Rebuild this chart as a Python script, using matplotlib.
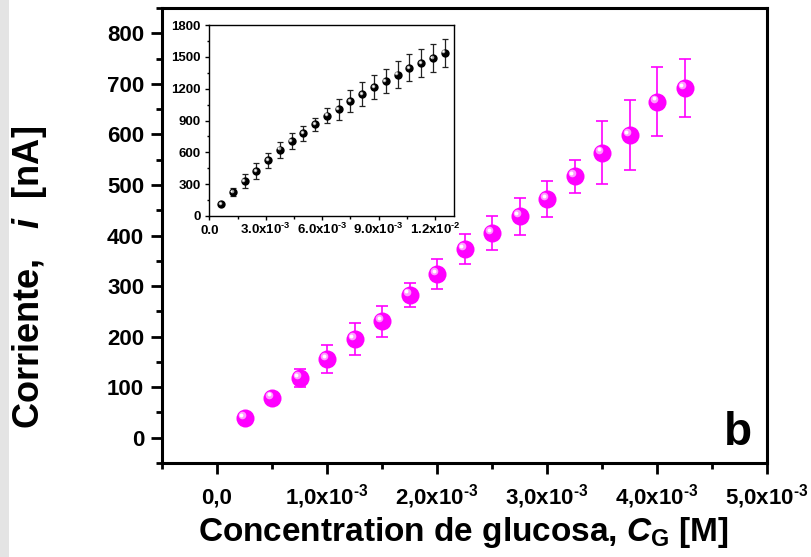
import matplotlib
matplotlib.use("Agg")
import matplotlib.pyplot as plt
from matplotlib.ticker import MultipleLocator
from matplotlib.transforms import offset_copy
from matplotlib.patches import Rectangle

plt.rcParams['font.family'] = ['Liberation Sans', 'DejaVu Sans']
plt.rcParams['font.weight'] = 'bold'
plt.rcParams['mathtext.fontset'] = 'custom'
plt.rcParams['mathtext.rm'] = 'Liberation Sans:bold'
plt.rcParams['mathtext.bf'] = 'Liberation Sans:bold'
plt.rcParams['mathtext.it'] = 'Liberation Sans:bold:italic'
plt.rcParams['mathtext.sf'] = 'Liberation Sans:bold'
plt.rcParams['mathtext.default'] = 'bf'

# ---------------- data ----------------
main_x = [0.25e-3, 0.50e-3, 0.75e-3, 1.00e-3, 1.25e-3, 1.50e-3, 1.75e-3, 2.00e-3,
          2.25e-3, 2.50e-3, 2.75e-3, 3.00e-3, 3.25e-3, 3.50e-3, 3.75e-3, 4.00e-3, 4.25e-3]
main_y = [39, 79, 118, 156, 195, 230, 283, 324, 373, 405, 438, 472, 517, 564, 599, 665, 692]
main_err = [5, 10, 18, 28, 31, 30, 24, 29, 29, 33, 37, 35, 33, 62, 70, 69, 58]

main_xticks = [0.0, 1e-3, 2e-3, 3e-3, 4e-3, 5e-3]
main_xticklabels = ["0,0", "1,0x10$^{\\text{-3}}$", "2,0x10$^{\\text{-3}}$", "3,0x10$^{\\text{-3}}$",
                    "4,0x10$^{\\text{-3}}$", "5,0x10$^{\\text{-3}}$"]
main_yticks = [0, 100, 200, 300, 400, 500, 600, 700, 800]

inset_x = [0.625e-3, 1.25e-3, 1.875e-3, 2.5e-3, 3.125e-3, 3.75e-3, 4.375e-3, 5.0e-3,
           5.625e-3, 6.25e-3, 6.875e-3, 7.5e-3, 8.125e-3, 8.75e-3, 9.375e-3, 10.0e-3,
           10.625e-3, 11.25e-3, 11.875e-3, 12.5e-3]
inset_y = [113, 226, 330, 424, 525, 625, 707, 779, 864, 946, 1005, 1081, 1147,
           1216, 1272, 1332, 1395, 1442, 1486, 1539]
inset_err = [10, 37, 66, 74, 71, 74, 71, 68, 64, 74, 97, 104, 112, 115, 116,
             127, 127, 129, 132, 132]
inset_xticks = [0.0, 3e-3, 6e-3, 9e-3, 12e-3]
inset_xticklabels = ["0.0", "3.0x10$^{\\text{-3}}$", "6.0x10$^{\\text{-3}}$", "9.0x10$^{\\text{-3}}$",
                     "1.2x10$^{\\text{-2}}$"]
inset_yticks = [0, 300, 600, 900, 1200, 1500, 1800]

# ---------------- figure ----------------
W, H = 811, 557
fig = plt.figure(figsize=(W / 100, H / 100), dpi=100)
fig.patches.append(Rectangle((0, 0), 9 / W, 1, transform=fig.transFigure,
                             facecolor='#e4e4e4', edgecolor='none', zorder=0))

def frac_box(l, t, r, b):
    return [l / W, 1 - b / H, (r - l) / W, (b - t) / H]

ax = fig.add_axes(frac_box(162, 8, 767, 463))
ax.set_xlim(-0.5e-3, 5.0e-3)
ax.set_ylim(-50, 850)

mag = '#ff00ff'
ax.errorbar(main_x, main_y, yerr=main_err, fmt='none', ecolor=mag, elinewidth=1.2,
            capsize=4.3, capthick=1.2, zorder=2)
ax.plot(main_x, main_y, 'o', ms=13, color=mag, mec=mag, mew=0, zorder=3)
hl = offset_copy(ax.transData, fig=fig, x=-3, y=3, units='dots')
ax.plot(main_x, main_y, 'o', ms=5.5, color='#ff99ff', mew=0, transform=hl, zorder=4)
hl2 = offset_copy(ax.transData, fig=fig, x=-3.3, y=3.3, units='dots')
ax.plot(main_x, main_y, 'o', ms=2.8, color='#ffffff', mew=0, transform=hl2, zorder=5)

ax.set_xticks(main_xticks)
ax.set_xticklabels(main_xticklabels)
ax.xaxis.set_minor_locator(MultipleLocator(0.5e-3))
ax.set_yticks(main_yticks)
ax.yaxis.set_minor_locator(MultipleLocator(50))
for s in ax.spines.values():
    s.set_linewidth(2.2)
ax.tick_params(which='major', direction='out', length=8, width=2.0, labelsize=16)
ax.tick_params(which='minor', direction='out', length=4, width=2.0)
ax.tick_params(axis='y', which='major', pad=4.8)
ax.tick_params(axis='x', which='major', pad=21.5)
ax.tick_params(top=False, right=False, which='both')
for lab in ax.get_xticklabels():
    lab.set_va('baseline')
    lab.set_fontweight('bold')
for lab in ax.get_yticklabels():
    lab.set_fontweight('bold')

fig.text(463 / W, 1 - 541.5 / H, "Concentration de glucosa, $\\mathit{C}_{\\mathrm{G}}$ [M]",
         ha='center', va='baseline', fontsize=24, fontweight='bold')
fig.text(30 / W, 1 - 277 / H, "Corriente,   $\\mathit{i}$  [nA]", rotation=90,
         ha='center', va='center', fontsize=26, fontweight='bold')
ax.text((752 - 162) / 605, (463 - 445) / 455, "b", transform=ax.transAxes,
        ha='right', va='baseline', fontsize=33, fontweight='bold')

# ---------------- inset ----------------
ins = fig.add_axes(frac_box(209.3, 25, 454, 216))
ins.set_xlim(0, 13e-3)
ins.set_ylim(0, 1800)
ins.errorbar(inset_x, inset_y, yerr=inset_err, fmt='none', ecolor='#222222',
             elinewidth=0.9, capsize=2.2, capthick=0.9, zorder=2)
ins.plot(inset_x, inset_y, 'o', ms=6, color='#000000', mew=0, zorder=3)
ihl = offset_copy(ins.transData, fig=fig, x=-1.3, y=1.3, units='dots')
ins.plot(inset_x, inset_y, 'o', ms=2.6, color='#a0a0a0', mew=0, transform=ihl, zorder=4)
ihl2 = offset_copy(ins.transData, fig=fig, x=-1.4, y=1.4, units='dots')
ins.plot(inset_x, inset_y, 'o', ms=1.3, color='#ffffff', mew=0, transform=ihl2, zorder=5)

ins.set_xticks(inset_xticks)
ins.set_xticklabels(inset_xticklabels)
ins.xaxis.set_minor_locator(MultipleLocator(1.5e-3))
ins.set_yticks(inset_yticks)
ins.yaxis.set_minor_locator(MultipleLocator(150))
for s in ins.spines.values():
    s.set_linewidth(1.0)
ins.tick_params(which='major', direction='out', length=3, width=1.0, labelsize=9.5)
ins.tick_params(which='minor', direction='out', length=1.8, width=1.0)
ins.tick_params(axis='y', which='major', pad=3.3)
ins.tick_params(axis='x', which='major', pad=9.6)
for lab in ins.get_xticklabels():
    lab.set_va('baseline')
    lab.set_fontweight('bold')
for lab in ins.get_yticklabels():
    lab.set_fontweight('bold')

fig.savefig("out.png", dpi=100)
